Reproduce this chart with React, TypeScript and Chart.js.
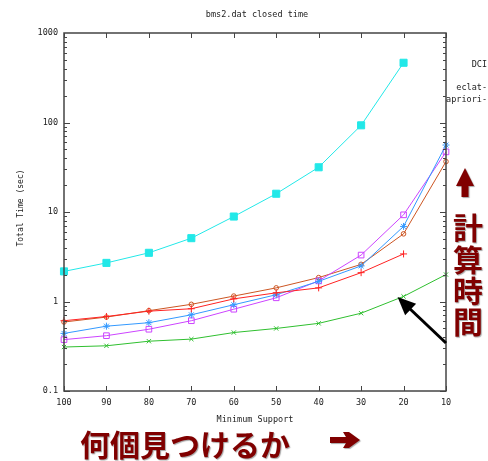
import React, { useEffect, useRef } from 'react';
import { Chart, registerables } from 'chart.js';

Chart.register(...registerables);

const supports = ['100', '90', '80', '70', '60', '50', '40', '30', '20', '10'];
const redPlus = [0.61, 0.68, 0.78, 0.83, 1.07, 1.25, 1.42, 2.1, 3.4, null];
const greenX = [0.31, 0.32, 0.36, 0.38, 0.45, 0.5, 0.57, 0.74, 1.14, 2.0];
const blueStar = [0.44, 0.53, 0.58, 0.71, 0.92, 1.19, 1.68, 2.5, 6.9, 56];
const magentaSquare = [0.375, 0.415, 0.49, 0.61, 0.82, 1.1, 1.7, 3.3, 9.3, 47];
const cyanFilled = [2.17, 2.7, 3.5, 5.1, 8.9, 16, 31.6, 93, 465, null];
const orangeCircle = [0.59, 0.67, 0.79, 0.93, 1.15, 1.42, 1.85, 2.6, 5.7, 36.6];
const yTicks = [0.1, 1, 10, 100, 1000];
const legendLabels = ['DCI', 'eclat-', 'apriori-'];

const chartTitle = 'bms2.dat closed time';
const xTitle = 'Minimum Support';
const yTitle = 'Total Time (sec)';
const bottomNote = '何個見つけるか';
const sideNote = ['計', '算', '時', '間'];

const MONO = '"DejaVu Sans Mono", "Liberation Mono", monospace';
const CJK = '"Noto Sans CJK JP", "Noto Sans CJK SC", sans-serif';
const NOTE = '#800000';

const decor = {
  id: 'decor',
  afterDraw(chart: any) {
    const ctx = chart.ctx as CanvasRenderingContext2D;
    const { left, right, top, bottom } = chart.chartArea;
    const xs = chart.scales.x;
    const ys = chart.scales.y;
    ctx.save();
    // border box
    ctx.strokeStyle = '#444';
    ctx.lineWidth = 1.5;
    ctx.strokeRect(left, top, right - left, bottom - top);
    ctx.lineWidth = 1;
    ctx.beginPath();
    for (let i = 0; i < supports.length; i++) {
      const x = Math.round(xs.getPixelForValue(i)) + 0.5;
      ctx.moveTo(x, bottom);
      ctx.lineTo(x, bottom - 5);
      ctx.moveTo(x, top);
      ctx.lineTo(x, top + 5);
    }
    for (let d = 0.1; d < 1000; d *= 10) {
      for (let m = 1; m <= 9; m++) {
        const y = Math.round(ys.getPixelForValue(d * m)) + 0.5;
        const len = m === 1 ? 6 : 3;
        ctx.moveTo(left, y);
        ctx.lineTo(left + len, y);
        ctx.moveTo(right, y);
        ctx.lineTo(right - len, y);
      }
    }
    ctx.stroke();

    // texts
    ctx.fillStyle = '#222';
    ctx.font = `8.5px ${MONO}`;
    ctx.textAlign = 'center';
    ctx.textBaseline = 'middle';
    ctx.fillText(chartTitle, (left + right) / 2 + 2, 15);
    ctx.fillText(xTitle, (left + right) / 2, 420);
    ctx.save();
    ctx.translate(21, 208);
    ctx.rotate(-Math.PI / 2);
    ctx.font = `8px ${MONO}`;
    ctx.fillText(yTitle, 0, 0);
    ctx.restore();
    ctx.textAlign = 'right';
    const legendY = [65, 88, 100];
    legendLabels.forEach((t, i) => ctx.fillText(t, 487, legendY[i]));

    // black arrow pointing to green line
    const tipX = xs.getPixelForValue(8) - 6;
    const tipY = ys.getPixelForValue(1.12);
    const tailX = right;
    const tailY = 343;
    const ang = Math.atan2(tipY - tailY, tipX - tailX);
    ctx.strokeStyle = '#000';
    ctx.fillStyle = '#000';
    ctx.lineWidth = 3;
    ctx.beginPath();
    ctx.moveTo(tailX, tailY);
    ctx.lineTo(tipX - Math.cos(ang) * 10, tipY - Math.sin(ang) * 10);
    ctx.stroke();
    ctx.beginPath();
    ctx.moveTo(tipX, tipY);
    ctx.lineTo(tipX - Math.cos(ang) * 18 + Math.sin(ang) * 8, tipY - Math.sin(ang) * 18 - Math.cos(ang) * 8);
    ctx.lineTo(tipX - Math.cos(ang) * 18 - Math.sin(ang) * 8, tipY - Math.sin(ang) * 18 + Math.cos(ang) * 8);
    ctx.closePath();
    ctx.fill();

    // Japanese notes
    ctx.shadowColor = 'rgba(0,0,0,0.35)';
    ctx.shadowOffsetX = 1;
    ctx.shadowOffsetY = 1;
    ctx.shadowBlur = 1;
    ctx.fillStyle = NOTE;
    ctx.font = `bold 30px ${CJK}`;
    ctx.textAlign = 'left';
    ctx.textBaseline = 'middle';
    ctx.fillText(bottomNote, 80, 445);
    ctx.textAlign = 'center';
    sideNote.forEach((c, i) => ctx.fillText(c, 468, 228 + i * 31.3));

    // right arrow
    ctx.beginPath();
    ctx.moveTo(330, 437);
    ctx.lineTo(346, 437);
    ctx.lineTo(343, 432);
    ctx.lineTo(349, 432);
    ctx.lineTo(360, 440);
    ctx.lineTo(349, 448);
    ctx.lineTo(343, 448);
    ctx.lineTo(346, 443);
    ctx.lineTo(330, 443);
    ctx.closePath();
    ctx.fill();

    // up arrow
    ctx.beginPath();
    ctx.moveTo(465, 168);
    ctx.lineTo(474, 186);
    ctx.lineTo(468.5, 186);
    ctx.lineTo(468.5, 197);
    ctx.lineTo(461.5, 197);
    ctx.lineTo(461.5, 186);
    ctx.lineTo(456, 186);
    ctx.closePath();
    ctx.fill();
    ctx.restore();
  },
};

export default function App() {
  const ref = useRef<HTMLCanvasElement | null>(null);
  useEffect(() => {
    if (!ref.current) return;
    const mk = (data: (number | null)[], color: string, style: string, radius: number, filled: boolean) => ({
      data,
      borderColor: color,
      backgroundColor: filled ? color : 'rgba(0,0,0,0)',
      pointBorderColor: color,
      pointBackgroundColor: filled ? color : 'rgba(0,0,0,0)',
      pointStyle: style,
      pointRadius: radius,
      pointBorderWidth: 1,
      borderWidth: 1,
      tension: 0,
      spanGaps: false,
    });
    const chart = new Chart(ref.current, {
      type: 'line',
      data: {
        labels: supports,
        datasets: [
          mk(greenX, '#2fbf2f', 'crossRot', 3, false),
          mk(redPlus, '#ff2222', 'cross', 3.5, false),
          mk(blueStar, '#3399ff', 'star', 3.5, false),
          mk(magentaSquare, '#cc44ff', 'rect', 4, false),
          mk(orangeCircle, '#cc5522', 'circle', 2.3, false),
          mk(cyanFilled, '#22e8e8', 'rect', 5, true),
        ] as any,
      },
      options: {
        animation: false,
        responsive: false,
        devicePixelRatio: 1,
        layout: { padding: { left: 0, right: 42, top: 33, bottom: 0 } },
        plugins: {
          legend: { display: false },
          tooltip: { enabled: false },
          title: { display: false },
        },
        scales: {
          x: {
            type: 'category',
            offset: false,
            grid: { display: false, drawTicks: false },
            border: { display: false },
            ticks: {
              font: { family: MONO, size: 8.5 },
              color: '#222',
              padding: 7,
              maxRotation: 0,
              autoSkip: false,
            },
            afterFit: (s: any) => {
              s.height = 70;
            },
          },
          y: {
            type: 'logarithmic',
            min: 0.1,
            max: 1000,
            grid: { display: false, drawTicks: false },
            border: { display: false },
            afterBuildTicks: (s: any) => {
              s.ticks = yTicks.map((v) => ({ value: v }));
            },
            ticks: {
              font: { family: MONO, size: 8.5 },
              color: '#222',
              padding: 6,
              autoSkip: false,
              callback: (v: any) => String(v),
            },
            afterFit: (s: any) => {
              s.width = 64;
            },
          },
        },
      } as any,
      plugins: [decor],
    });
    return () => chart.destroy();
  }, []);
  return (
    <div style={{ position: 'absolute', left: 0, top: 0, width: 488, height: 461, background: '#fff' }}>
      <canvas ref={ref} width={488} height={461} style={{ width: 488, height: 461, display: 'block' }} />
    </div>
  );
}
